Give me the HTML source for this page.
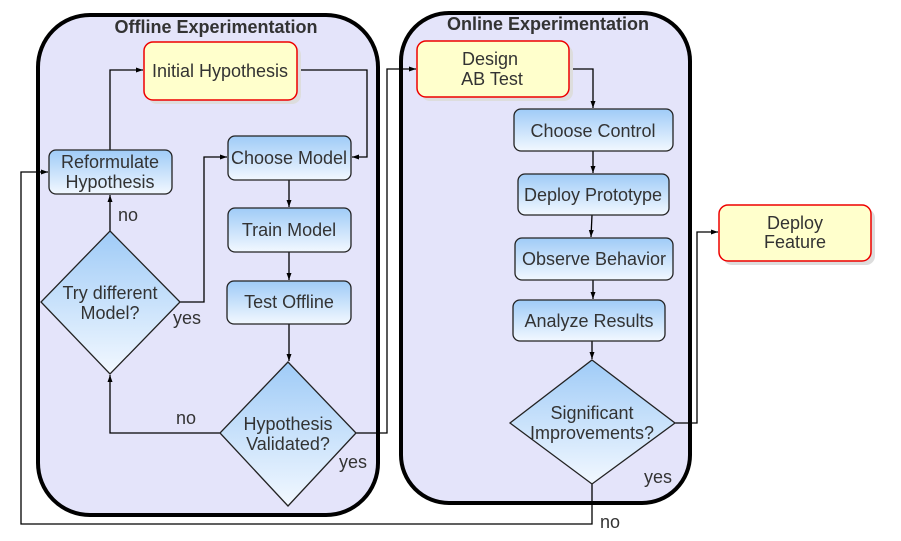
<!DOCTYPE html>
<html><head><meta charset="utf-8"><style>
html,body{margin:0;padding:0;background:#fff;}
svg{display:block;}
text{font-family:"Liberation Sans",sans-serif;fill:#333;}
</style></head><body>
<svg width="901" height="541" viewBox="0 0 901 541" xmlns="http://www.w3.org/2000/svg">
<defs>
<linearGradient id="bl" x1="0" y1="0" x2="0" y2="1">
<stop offset="0" stop-color="#9fcbf7"/><stop offset="1" stop-color="#f2f8ff"/>
</linearGradient>
<marker id="a" markerWidth="8" markerHeight="8" refX="7" refY="4" orient="auto" markerUnits="userSpaceOnUse">
<path d="M0,1.5 L7,4 L0,6.5 Z" fill="#000"/>
</marker>
</defs>
<rect x="38" y="15" width="340" height="500" rx="52" fill="#e4e4fa" stroke="#000" stroke-width="4"/>
<rect x="401" y="13" width="289" height="490" rx="48" fill="#e4e4fa" stroke="#000" stroke-width="4"/>
<text x="216" y="33" font-size="18" font-weight="bold" text-anchor="middle">Offline Experimentation</text>
<text x="548" y="30" font-size="18" font-weight="bold" text-anchor="middle">Online Experimentation</text>

<g fill="none" stroke="#000" stroke-width="1.3">
<polyline points="297,70 367,70 367,157 352,157" marker-end="url(#a)"/>
<polyline points="110,150 110,70 143,70" marker-end="url(#a)"/>
<line x1="289" y1="180" x2="289" y2="207" marker-end="url(#a)"/>
<line x1="289" y1="252" x2="289" y2="280" marker-end="url(#a)"/>
<line x1="289" y1="324" x2="289" y2="361" marker-end="url(#a)"/>
<polyline points="220,433 110,433 110,375" marker-end="url(#a)"/>
<line x1="110" y1="231" x2="110" y2="195" marker-end="url(#a)"/>
<polyline points="180,302 204,302 204,157 227,157" marker-end="url(#a)"/>
<polyline points="356,433 387,433 387,69 416,69" marker-end="url(#a)"/>
<polyline points="569,69 593,69 593,108" marker-end="url(#a)"/>
<line x1="593" y1="151" x2="593" y2="173" marker-end="url(#a)"/>
<line x1="592" y1="215" x2="591" y2="237" marker-end="url(#a)"/>
<line x1="593" y1="280" x2="593" y2="299" marker-end="url(#a)"/>
<line x1="592" y1="341" x2="592" y2="359" marker-end="url(#a)"/>
<polyline points="675,423 697,423 697,232 718,232" marker-end="url(#a)"/>
<polyline points="592,484 592,524 21,524 21,172 48,172" marker-end="url(#a)"/>
</g>

<g>
<rect x="148" y="46" width="153" height="58" rx="9" fill="#ddd"/>
<rect x="144" y="42" width="153" height="58" rx="9" fill="#ffffcc" stroke="#e00" stroke-width="1.5"/>
<rect x="421" y="45" width="152" height="56" rx="9" fill="#ddd"/>
<rect x="417" y="41" width="152" height="56" rx="9" fill="#ffffcc" stroke="#e00" stroke-width="1.5"/>
<rect x="723" y="209" width="152" height="56" rx="9" fill="#ddd"/>
<rect x="719" y="205" width="152" height="56" rx="9" fill="#ffffcc" stroke="#e00" stroke-width="1.5"/>
</g>
<g fill="url(#bl)" stroke="#222" stroke-width="1.3">
<rect x="49" y="150" width="123" height="44" rx="7"/>
<rect x="228" y="136" width="123" height="44" rx="7"/>
<rect x="228" y="208" width="123" height="44" rx="7"/>
<rect x="227" y="281" width="124" height="43" rx="7"/>
<rect x="514" y="109" width="159" height="42" rx="7"/>
<rect x="518" y="174" width="151" height="41" rx="7"/>
<rect x="515" y="238" width="158" height="42" rx="7"/>
<rect x="513" y="300" width="152" height="41" rx="7"/>
<polygon points="110,231 180,302 110,374 41,302"/>
<polygon points="288,362 356,433 288,506 220,433"/>
<polygon points="592,360 675,423 592,484 510,423"/>
</g>

<g font-size="18" text-anchor="middle">
<text x="220" y="77">Initial Hypothesis</text>
<text x="110" y="168">Reformulate</text>
<text x="110" y="188">Hypothesis</text>
<text x="289" y="164">Choose Model</text>
<text x="289" y="236">Train Model</text>
<text x="289" y="308">Test Offline</text>
<text x="110" y="299">Try different</text>
<text x="110" y="319">Model?</text>
<text x="288" y="430">Hypothesis</text>
<text x="288" y="450">Validated?</text>
<text x="490" y="65">Design</text>
<text x="492" y="85">AB Test</text>
<text x="593" y="137">Choose Control</text>
<text x="593" y="201">Deploy Prototype</text>
<text x="594" y="265">Observe Behavior</text>
<text x="589" y="327">Analyze Results</text>
<text x="592" y="419">Significant</text>
<text x="592" y="439">Improvements?</text>
<text x="795" y="229">Deploy</text>
<text x="795" y="248">Feature</text>
<text x="128" y="221">no</text>
<text x="187" y="324">yes</text>
<text x="186" y="424">no</text>
<text x="353" y="468">yes</text>
<text x="658" y="483">yes</text>
<text x="610" y="528">no</text>
</g>
</svg>
</body></html>
